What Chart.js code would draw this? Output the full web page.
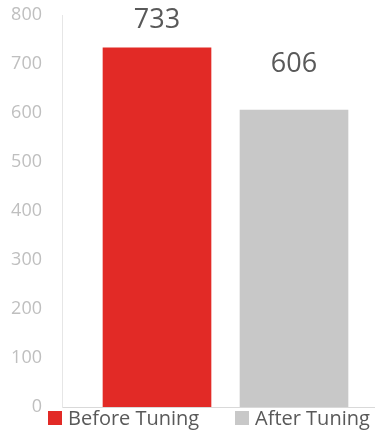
<!DOCTYPE html>
<html>
<head>
<meta charset="utf-8">
<script src="https://cdn.jsdelivr.net/npm/chart.js@4.4.0/dist/chart.umd.min.js"></script>
<style>
  html, body { margin: 0; padding: 0; background: #fff; overflow: hidden; }
  #wrap { position: relative; width: 375px; height: 432px; }
  #legend { position: absolute; left: 48px; top: 409px; display: flex; height: 17px; line-height: 17px;
    align-items: center; font-family: "Open Sans", sans-serif; font-size: 20px; color: #595959; }
  .item { display: flex; align-items: center; }
  .item:first-child { width: 187px; }
  .box { width: 14px; height: 14px; margin-right: 6px; }
</style>
</head>
<body>
<div id="wrap">
  <canvas id="chart"></canvas>
  <div id="legend"></div>
</div>
<script>
const categories = ['Before Tuning', 'After Tuning'];
const values = [733, 606];
const colors = ['#e22a26', '#c8c8c8'];
const yTicks = [0, 100, 200, 300, 400, 500, 600, 700, 800];

// one dataset per bar so each gets its own legend entry
const datasets = categories.map((c, i) => ({
  label: c,
  data: [{ x: i, y: values[i] }],
  backgroundColor: colors[i],
  barThickness: 108,
  grouped: false,
}));

// draws the value above each bar (kept inside the plot at the top)
const valueLabels = {
  id: 'valueLabels',
  afterDatasetsDraw(chart) {
    const ctx = chart.ctx;
    ctx.save();
    ctx.font = '27px "Open Sans", sans-serif';
    ctx.fillStyle = '#595959';
    ctx.textAlign = 'center';
    ctx.textBaseline = 'alphabetic';
    chart.data.datasets.forEach((ds, i) => {
      const bar = chart.getDatasetMeta(i).data[0];
      const y = Math.max(bar.y - 38, chart.chartArea.top + 13);
      ctx.fillText(String(values[i]), bar.x, y);
    });
    ctx.restore();
  },
};

const chart = new Chart(document.getElementById('chart'), {
  type: 'bar',
  data: { datasets },
  options: {
    responsive: true,
    maintainAspectRatio: false,
    animation: false,
    layout: { padding: { top: 15, right: 0, bottom: 25, left: 0 } },
    plugins: { legend: { display: false }, tooltip: { enabled: false } },
    scales: {
      x: {
        type: 'linear',
        offset: false,
        min: -0.6934,
        max: 1.5912,
        afterFit: (axis) => { axis.height = 0; },
        ticks: { display: false },
        grid: { display: false, drawTicks: false },
        border: { display: true, color: '#d9d9d9', width: 1 },
      },
      y: {
        min: 0,
        max: 800,
        afterBuildTicks: (axis) => { axis.ticks = yTicks.map((v) => ({ value: v })); },
        afterFit: (axis) => {
          axis.width = 62;
          axis.paddingTop = 0;
          axis.paddingBottom = 0;
        },
        ticks: { padding: 20, color: '#bfbfbf', font: { family: 'Open Sans', size: 18 } },
        grid: { display: false, drawTicks: false },
        border: { display: true, color: '#e6e6e6', width: 1 },
      },
    },
  },
  plugins: [valueLabels],
});

// html legend built from the datasets
const legend = document.getElementById('legend');
chart.data.datasets.forEach((ds) => {
  const item = document.createElement('div');
  item.className = 'item';
  item.innerHTML = `<span class="box" style="background:${ds.backgroundColor}"></span><span>${ds.label}</span>`;
  legend.appendChild(item);
});
</script>
</body>
</html>
